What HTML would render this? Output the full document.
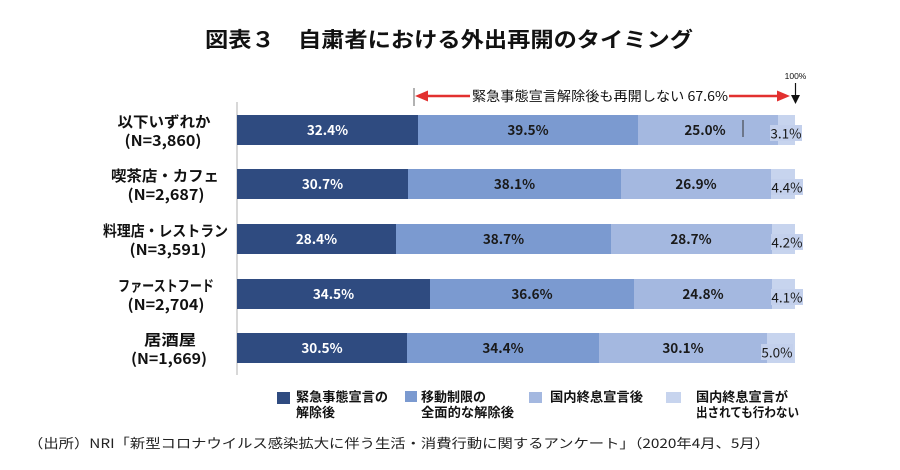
<!DOCTYPE html>
<html><head><meta charset="utf-8"><style>
html,body{margin:0;padding:0;background:#fff;}
svg{display:block;}
text{font-family:"Liberation Sans","Noto Sans CJK JP",sans-serif;}
.j{font-family:"Noto Sans CJK JP","Liberation Sans",sans-serif;}
</style></head><body>
<svg width="900" height="470" viewBox="0 0 900 470" xmlns="http://www.w3.org/2000/svg">
<rect width="900" height="470" fill="#fff"/>
<!-- title -->
<text class="j" x="205" y="47" font-size="21" font-weight="bold" fill="#111" textLength="488" lengthAdjust="spacingAndGlyphs">図表３　自粛者における外出再開のタイミング</text>

<!-- red arrow annotation -->
<line x1="414" y1="88" x2="414" y2="106" stroke="#666" stroke-width="1"/>
<line x1="424" y1="96" x2="781" y2="96" stroke="#e2302f" stroke-width="2.5"/>
<polygon points="415,96 428,90.5 428,101.5" fill="#e2302f"/>
<polygon points="790,96 777,90.5 777,101.5" fill="#e2302f"/>
<rect x="470" y="87" width="259" height="18" fill="#fff"/>
<text class="j" x="472" y="101" font-size="13.5" fill="#111" textLength="256" lengthAdjust="spacingAndGlyphs">緊急事態宣言解除後も再開しない 67.6%</text>
<text x="795.5" y="79" font-size="8.5" fill="#111" text-anchor="middle">100%</text>
<line x1="795.5" y1="83" x2="795.5" y2="97" stroke="#111" stroke-width="1.2"/>
<polygon points="791,95 800,95 795.5,104" fill="#111"/>

<!-- axis -->
<line x1="237" y1="102" x2="237" y2="375" stroke="#b0b0b0" stroke-width="1"/>

<g class="j" font-size="13.5" font-weight="bold" text-anchor="middle">
<!-- Row 1 -->
<rect x="237" y="115" width="181" height="30" fill="#2f4b80"/>
<rect x="418" y="115" width="220" height="30" fill="#7b9ad0"/>
<rect x="638" y="115" width="140" height="30" fill="#a4b8e0"/>
<rect x="778" y="115" width="17" height="30" fill="#c7d4ee"/>
<line x1="743" y1="120" x2="743" y2="137" stroke="#333" stroke-width="1"/>
<text class="j" x="327.5" y="135" fill="#fff">32.4%</text>
<text class="j" x="528" y="135" fill="#1a1a1a">39.5%</text>
<text class="j" x="705" y="135" fill="#1a1a1a">25.0%</text>
<!-- Row 2 -->
<rect x="237" y="169" width="171" height="30" fill="#2f4b80"/>
<rect x="408" y="169" width="213" height="30" fill="#7b9ad0"/>
<rect x="621" y="169" width="150" height="30" fill="#a4b8e0"/>
<rect x="771" y="169" width="24" height="30" fill="#c7d4ee"/>
<text class="j" x="322.5" y="189" fill="#fff">30.7%</text>
<text class="j" x="514.5" y="189" fill="#1a1a1a">38.1%</text>
<text class="j" x="696" y="189" fill="#1a1a1a">26.9%</text>
<!-- Row 3 -->
<rect x="237" y="224" width="159" height="30" fill="#2f4b80"/>
<rect x="396" y="224" width="215" height="30" fill="#7b9ad0"/>
<rect x="611" y="224" width="161" height="30" fill="#a4b8e0"/>
<rect x="772" y="224" width="23" height="30" fill="#c7d4ee"/>
<text class="j" x="316.5" y="244" fill="#fff">28.4%</text>
<text class="j" x="503.5" y="244" fill="#1a1a1a">38.7%</text>
<text class="j" x="691" y="244" fill="#1a1a1a">28.7%</text>
<!-- Row 4 -->
<rect x="237" y="279" width="193" height="30" fill="#2f4b80"/>
<rect x="430" y="279" width="204" height="30" fill="#7b9ad0"/>
<rect x="634" y="279" width="138" height="30" fill="#a4b8e0"/>
<rect x="772" y="279" width="23" height="30" fill="#c7d4ee"/>
<text class="j" x="333.5" y="299" fill="#fff">34.5%</text>
<text class="j" x="532" y="299" fill="#1a1a1a">36.6%</text>
<text class="j" x="703" y="299" fill="#1a1a1a">24.8%</text>
<!-- Row 5 -->
<rect x="237" y="333" width="170" height="30" fill="#2f4b80"/>
<rect x="407" y="333" width="192" height="30" fill="#7b9ad0"/>
<rect x="599" y="333" width="168" height="30" fill="#a4b8e0"/>
<rect x="767" y="333" width="28" height="30" fill="#c7d4ee"/>
<text class="j" x="322" y="353" fill="#fff">30.5%</text>
<text class="j" x="503" y="353" fill="#1a1a1a">34.4%</text>
<text class="j" x="683" y="353" fill="#1a1a1a">30.1%</text>
</g>

<!-- small boxed labels -->
<g class="j" font-size="13.5" fill="#1a1a1a" text-anchor="middle">
<rect x="770" y="125" width="32" height="16" fill="#c3d0ec"/>
<text class="j" x="786" y="138.5">3.1%</text>
<rect x="771" y="179" width="32" height="16" fill="#c3d0ec"/>
<text class="j" x="787" y="192.5">4.4%</text>
<rect x="771" y="234" width="32" height="16" fill="#c3d0ec"/>
<text class="j" x="787" y="247.5">4.2%</text>
<rect x="771" y="289" width="32" height="16" fill="#c3d0ec"/>
<text class="j" x="787" y="302.5">4.1%</text>
<rect x="761" y="344" width="32" height="16" fill="#c3d0ec"/>
<text class="j" x="777" y="357.5">5.0%</text>
</g>

<!-- category labels -->
<g class="j" font-size="15" font-weight="bold" fill="#111" text-anchor="middle">
<text class="j" x="164" y="127" textLength="93" lengthAdjust="spacingAndGlyphs">以下いずれか</text>
<text class="j" x="163" y="146" textLength="77" lengthAdjust="spacingAndGlyphs">(N=3,860)</text>
<text class="j" x="165" y="181" textLength="108" lengthAdjust="spacingAndGlyphs">喫茶店・カフェ</text>
<text class="j" x="166" y="200" textLength="77" lengthAdjust="spacingAndGlyphs">(N=2,687)</text>
<text class="j" x="165.5" y="236" textLength="125" lengthAdjust="spacingAndGlyphs">料理店・レストラン</text>
<text class="j" x="168" y="255" textLength="77" lengthAdjust="spacingAndGlyphs">(N=3,591)</text>
<text class="j" x="166" y="291" textLength="96" lengthAdjust="spacingAndGlyphs">ファーストフード</text>
<text class="j" x="166" y="310" textLength="77" lengthAdjust="spacingAndGlyphs">(N=2,704)</text>
<text class="j" x="170" y="345" textLength="52" lengthAdjust="spacingAndGlyphs">居酒屋</text>
<text class="j" x="169" y="364" textLength="76" lengthAdjust="spacingAndGlyphs">(N=1,669)</text>
</g>

<!-- legend -->
<g class="j" font-size="13" font-weight="bold" fill="#111">
<rect x="277" y="392" width="13" height="12" fill="#2f4b80"/>
<text class="j" x="296" y="401.5" textLength="92" lengthAdjust="spacingAndGlyphs">緊急事態宣言の</text>
<text class="j" x="296" y="417">解除後</text>
<rect x="405" y="391" width="12" height="11" fill="#7b9ad0"/>
<text class="j" x="421" y="401.5">移動制限の</text>
<text class="j" x="421" y="417" textLength="93" lengthAdjust="spacingAndGlyphs">全面的な解除後</text>
<rect x="529" y="392" width="13" height="11" fill="#a4b8e0"/>
<text class="j" x="550" y="401.5" textLength="93" lengthAdjust="spacingAndGlyphs">国内終息宣言後</text>
<rect x="666" y="392" width="15" height="11" fill="#c7d4ee"/>
<text class="j" x="696" y="401.5" textLength="92" lengthAdjust="spacingAndGlyphs">国内終息宣言が</text>
<text class="j" x="696" y="417" textLength="103" lengthAdjust="spacingAndGlyphs">出されても行わない</text>
</g>

<!-- source -->
<text class="j" x="28" y="448" font-size="13" fill="#222" textLength="742" lengthAdjust="spacingAndGlyphs">（出所）NRI「新型コロナウイルス感染拡大に伴う生活・消費行動に関するアンケート」（2020年4月、5月）</text>
</svg>
</body></html>
